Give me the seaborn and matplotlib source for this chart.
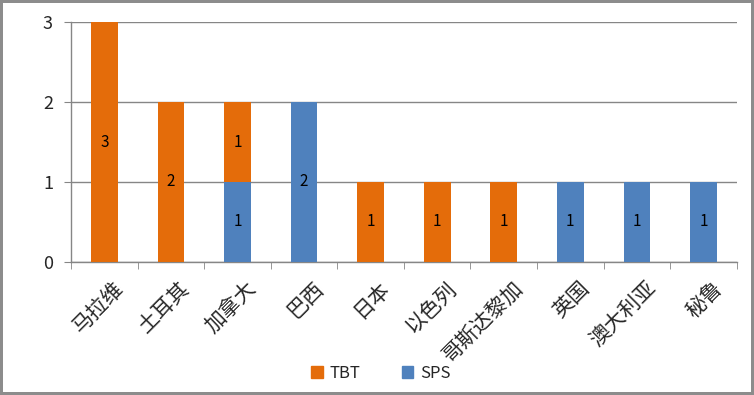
import pandas as pd
import seaborn as sns
import matplotlib.pyplot as plt
from matplotlib.patches import Patch
from matplotlib.transforms import ScaledTranslation
import numpy as np

# data
countries = ["马拉维", "土耳其", "加拿大", "巴西", "日本", "以色列", "哥斯达黎加", "英国", "澳大利亚", "秘鲁"]
tbt = [3, 2, 1, 0, 1, 1, 1, 0, 0, 0]
sps = [0, 0, 1, 2, 0, 0, 0, 1, 1, 1]

ORANGE = "#E46C0A"
BLUE = "#4F81BD"
GRID = "#868686"

sns.set_style("white")
plt.rcParams['font.family'] = ['Noto Sans CJK SC', 'DejaVu Sans']

df = pd.DataFrame({"country": countries, "TBT": tbt, "SPS": sps})

fig = plt.figure(figsize=(7.54, 3.95), dpi=100)
ax = fig.add_axes([0.0942, 0.337, 0.883, 0.607])

# SPS at the bottom, TBT stacked on top
sns.barplot(data=df, x="country", y="SPS", color=BLUE, width=0.4,
            saturation=1, linewidth=0, ax=ax, zorder=3)
sns.barplot(data=df, x="country", y="TBT", bottom=df["SPS"], color=ORANGE,
            width=0.4, saturation=1, linewidth=0, ax=ax, zorder=3)

for cont, vals in zip(ax.containers, [sps, tbt]):
    ax.bar_label(cont, labels=[str(v) if v else "" for v in vals],
                 label_type="center", fontsize=11, color="#000000")

ax.set_ylim(0, 3)
ax.set_xlim(-0.5, len(countries) - 0.5)
ax.set_yticks([0, 1, 2, 3])
ax.yaxis.grid(True, color=GRID, linewidth=1)
ax.set_axisbelow(True)
ax.set_xlabel("")
ax.set_ylabel("")

for s in ["top", "right"]:
    ax.spines[s].set_visible(False)
for s in ["left", "bottom"]:
    ax.spines[s].set_color(GRID)
    ax.spines[s].set_linewidth(1)

ax.tick_params(axis="y", left=True, length=5, color=GRID, labelsize=13, pad=8)
ax.tick_params(axis="x", which="major", length=0, pad=8)
ax.set_xticks(np.arange(-0.5, len(countries)), minor=True)
ax.tick_params(axis="x", which="minor", bottom=True, length=5, color=GRID)
ax.set_xticklabels(countries, rotation=45, ha="right", rotation_mode="anchor",
                   fontsize=15)
shift = ScaledTranslation(8 / 100, -4 / 100, fig.dpi_scale_trans)
for lab in ax.get_xticklabels():
    lab.set_transform(lab.get_transform() + shift)

handles = [Patch(color=ORANGE, label="TBT"), Patch(color=BLUE, label="SPS")]
fig.legend(handles=handles, loc="center", bbox_to_anchor=(0.505, 0.055), ncol=2,
           frameon=False, fontsize=12, handlelength=0.7, handleheight=0.7,
           columnspacing=2.5, handletextpad=0.4)

fig.patch.set_edgecolor("#8c8c8c")
fig.patch.set_linewidth(3)

fig.savefig("out.png", dpi=100, edgecolor=fig.get_edgecolor())
